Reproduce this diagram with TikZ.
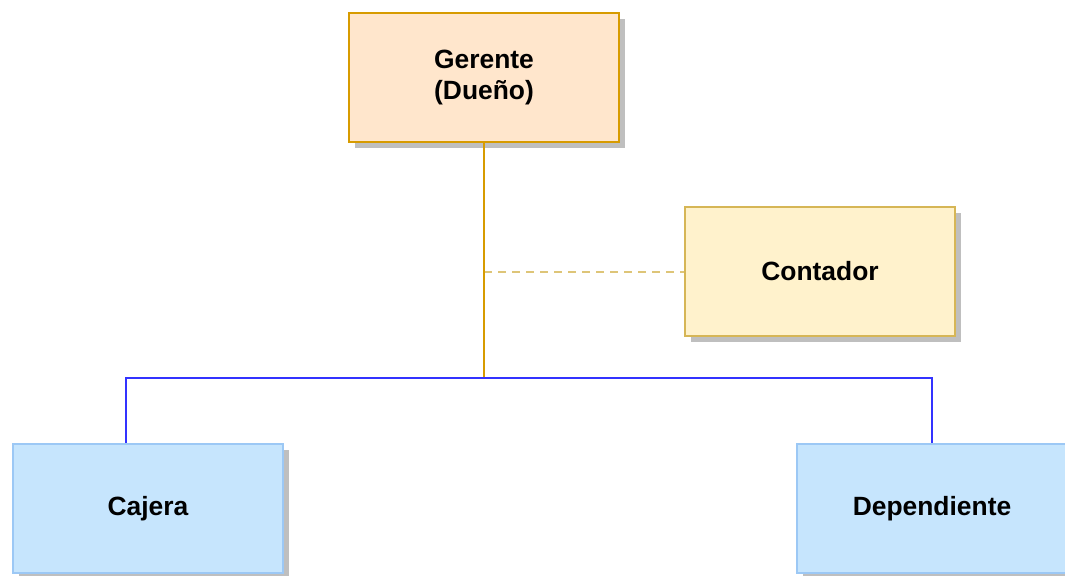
\documentclass[tikz,border=0pt]{standalone}
\usepackage{fontspec}
\setmainfont{Liberation Sans}
\usetikzlibrary{shadows}

\definecolor{naranjaFondo}{HTML}{FFE6CC}
\definecolor{naranjaBorde}{HTML}{D79B00}
\definecolor{amarilloFondo}{HTML}{FFF2CC}
\definecolor{amarilloBorde}{HTML}{D6B656}
\definecolor{celesteFondo}{HTML}{C6E5FD}
\definecolor{celesteBorde}{HTML}{9CC8F5}
\definecolor{azulLinea}{HTML}{3333FF}
\definecolor{sombra}{HTML}{BFBFBF}

\begin{document}
\begin{tikzpicture}[x=0.5pt,y=-0.5pt,
        puesto/.style={draw, line width=1pt, minimum width=135pt, minimum height=64.5pt,
            align=center, font=\bfseries\fontsize{13.2}{15.5}\selectfont,
            drop shadow={shadow xshift=3pt, shadow yshift=-3pt, fill=sombra, opacity=1}},
        mando/.style={draw=naranjaBorde, line width=1pt},
        asesor/.style={draw=amarilloBorde!80, line width=1pt, dash pattern=on 4pt off 3pt},
        base/.style={draw=azulLinea, line width=1pt}]
    \useasboundingbox (0,0) rectangle (1065,575);

    % puestos
    \node[puesto, fill=naranjaFondo, draw=naranjaBorde] (gerente) at (484,77.5) {Gerente\\(Dueño)};
    \node[puesto, fill=amarilloFondo, draw=amarilloBorde] (contador) at (820,271.5) {Contador};
    \node[puesto, fill=celesteFondo, draw=celesteBorde] (cajera) at (148,508.5) {Cajera};
    \node[puesto, fill=celesteFondo, draw=celesteBorde] (dependiente) at (932,508.5) {Dependiente};

    \coordinate (cruce) at (484,378);

    % lineas
    \draw[asesor] (gerente.south |- contador.west) -- (contador.west);
    \draw[mando] (gerente.south) -- (cruce);
    \draw[base] (cruce) -| ([xshift=-11pt]cajera.north);
    \draw[base] (cruce) -| (dependiente.north);
\end{tikzpicture}
\end{document}
